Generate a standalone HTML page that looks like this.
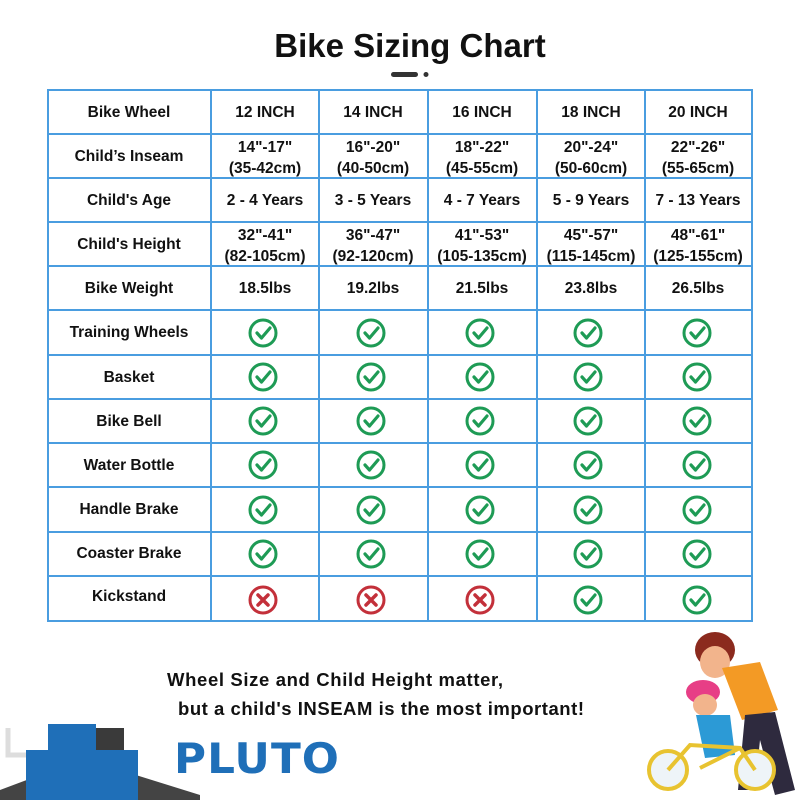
<!DOCTYPE html>
<html><head><style>
body{margin:0;width:800px;height:800px;background:#fff;overflow:hidden;position:relative;font-family:"Liberation Sans","DejaVu Sans",sans-serif}
svg{position:absolute;left:0;top:0}
</style></head><body>
<svg width="800" height="800" viewBox="0 0 800 800" xmlns="http://www.w3.org/2000/svg">
<defs>
<g id="ok"><circle r="13" fill="none" stroke="#1e9b55" stroke-width="3"/><path d="M-6,0 L-1.5,5 L7,-5" fill="none" stroke="#1e9b55" stroke-width="3.2" stroke-linecap="round" stroke-linejoin="round"/></g>
<g id="no"><circle r="13" fill="none" stroke="#c3303a" stroke-width="3"/><path d="M-5,-5 L5,5 M5,-5 L-5,5" stroke="#c3303a" stroke-width="3.5" stroke-linecap="round"/></g>
</defs>
<text x="410" y="57" font-size="33" font-weight="bold" text-anchor="middle" fill="#111">Bike Sizing Chart</text>
<rect x="391" y="72" width="27" height="5" rx="2.5" fill="#333"/>
<circle cx="426" cy="74.5" r="2.5" fill="#333"/>
<g stroke="#4a9de0" stroke-width="2" fill="none">
<rect x="48" y="90" width="704" height="531"/>
<path d="M211,90V621M319,90V621M428,90V621M537,90V621M645,90V621"/>
<path d="M48,134H752M48,178H752M48,222H752M48,266H752M48,310H752M48,355H752M48,399H752M48,443H752M48,487H752M48,532H752M48,576H752"/>
</g>
<g font-size="15.5" font-weight="bold" fill="#111" text-anchor="middle">
<text x="129" y="117">Bike Wheel</text>
<text x="265" y="117">12 INCH</text><text x="373" y="117">14 INCH</text><text x="482" y="117">16 INCH</text><text x="591" y="117">18 INCH</text><text x="698" y="117">20 INCH</text>
<text x="129" y="161">Child’s Inseam</text>
<text x="265" y="152">14"-17"</text><text x="265" y="173">(35-42cm)</text>
<text x="373" y="152">16"-20"</text><text x="373" y="173">(40-50cm)</text>
<text x="482" y="152">18"-22"</text><text x="482" y="173">(45-55cm)</text>
<text x="591" y="152">20"-24"</text><text x="591" y="173">(50-60cm)</text>
<text x="698" y="152">22"-26"</text><text x="698" y="173">(55-65cm)</text>
<text x="129" y="205">Child's Age</text>
<text x="265" y="205">2 - 4 Years</text><text x="373" y="205">3 - 5 Years</text><text x="482" y="205">4 - 7 Years</text><text x="591" y="205">5 - 9 Years</text><text x="698" y="205">7 - 13 Years</text>
<text x="129" y="249">Child's Height</text>
<text x="265" y="240">32"-41"</text><text x="265" y="261">(82-105cm)</text>
<text x="373" y="240">36"-47"</text><text x="373" y="261">(92-120cm)</text>
<text x="482" y="240">41"-53"</text><text x="482" y="261">(105-135cm)</text>
<text x="591" y="240">45"-57"</text><text x="591" y="261">(115-145cm)</text>
<text x="698" y="240">48"-61"</text><text x="698" y="261">(125-155cm)</text>
<text x="129" y="293">Bike Weight</text>
<text x="265" y="293">18.5lbs</text><text x="373" y="293">19.2lbs</text><text x="482" y="293">21.5lbs</text><text x="591" y="293">23.8lbs</text><text x="698" y="293">26.5lbs</text>
<text x="129" y="337">Training Wheels</text>
<text x="129" y="382">Basket</text>
<text x="129" y="426">Bike Bell</text>
<text x="129" y="470">Water Bottle</text>
<text x="129" y="514">Handle Brake</text>
<text x="129" y="558">Coaster Brake</text>
<text x="129" y="601">Kickstand</text>
</g>
<g>
<use href="#ok" x="263" y="333"/><use href="#ok" x="371" y="333"/><use href="#ok" x="480" y="333"/><use href="#ok" x="588" y="333"/><use href="#ok" x="697" y="333"/>
<use href="#ok" x="263" y="377"/><use href="#ok" x="371" y="377"/><use href="#ok" x="480" y="377"/><use href="#ok" x="588" y="377"/><use href="#ok" x="697" y="377"/>
<use href="#ok" x="263" y="421"/><use href="#ok" x="371" y="421"/><use href="#ok" x="480" y="421"/><use href="#ok" x="588" y="421"/><use href="#ok" x="697" y="421"/>
<use href="#ok" x="263" y="465"/><use href="#ok" x="371" y="465"/><use href="#ok" x="480" y="465"/><use href="#ok" x="588" y="465"/><use href="#ok" x="697" y="465"/>
<use href="#ok" x="263" y="510"/><use href="#ok" x="371" y="510"/><use href="#ok" x="480" y="510"/><use href="#ok" x="588" y="510"/><use href="#ok" x="697" y="510"/>
<use href="#ok" x="263" y="554"/><use href="#ok" x="371" y="554"/><use href="#ok" x="480" y="554"/><use href="#ok" x="588" y="554"/><use href="#ok" x="697" y="554"/>
<use href="#no" x="263" y="600"/><use href="#no" x="371" y="600"/><use href="#no" x="480" y="600"/><use href="#ok" x="588" y="600"/><use href="#ok" x="697" y="600"/>
</g>
<g font-size="18.5" font-weight="bold" fill="#111">
<text x="167" y="686" textLength="336" lengthAdjust="spacing">Wheel Size and Child Height matter,</text>
<text x="178" y="715" textLength="406" lengthAdjust="spacing">but a child's INSEAM is the most important!</text>
</g>
<!-- logo -->
<path d="M0,790 L40,775 L120,770 L200,795 L200,800 L0,800Z" fill="#444"/>
<path d="M8,728 L8,755 L44,755" fill="none" stroke="#ddd" stroke-width="5"/>
<rect x="96" y="728" width="28" height="28" fill="#3a3a3a"/>
<rect x="48" y="724" width="48" height="46" fill="#1f6fb8"/>
<rect x="26" y="750" width="112" height="50" fill="#1f6fb8"/>
<text x="174" y="773" font-size="42" font-weight="900" fill="#1f6fb8" letter-spacing="1" font-family="'DejaVu Sans',sans-serif" textLength="166" lengthAdjust="spacingAndGlyphs">PLUTO</text>
<!-- illustration -->
<ellipse cx="715" cy="650" rx="20" ry="18" fill="#8b2a1e"/>
<ellipse cx="715" cy="662" rx="15" ry="16" fill="#f2b48c"/>
<path d="M722,668 L760,662 L778,710 L742,720Z" fill="#f39a25"/>
<path d="M745,715 L775,712 L795,790 L775,795 L760,740 L755,790 L738,790Z" fill="#2e2a3e"/>
<ellipse cx="703" cy="692" rx="17" ry="12" fill="#e73e86"/>
<ellipse cx="705" cy="705" rx="12" ry="11" fill="#f2b48c"/>
<path d="M696,715 L730,715 L735,755 L705,758Z" fill="#2c9ad6"/>
<circle cx="668" cy="770" r="19" fill="#eef4f8" stroke="#e8c330" stroke-width="4"/>
<circle cx="755" cy="770" r="19" fill="#eef4f8" stroke="#e8c330" stroke-width="4"/>
<path d="M668,770 L690,745 L740,748 L755,770 M700,768 L740,748" fill="none" stroke="#e8c330" stroke-width="4"/>
</svg>
</body></html>
